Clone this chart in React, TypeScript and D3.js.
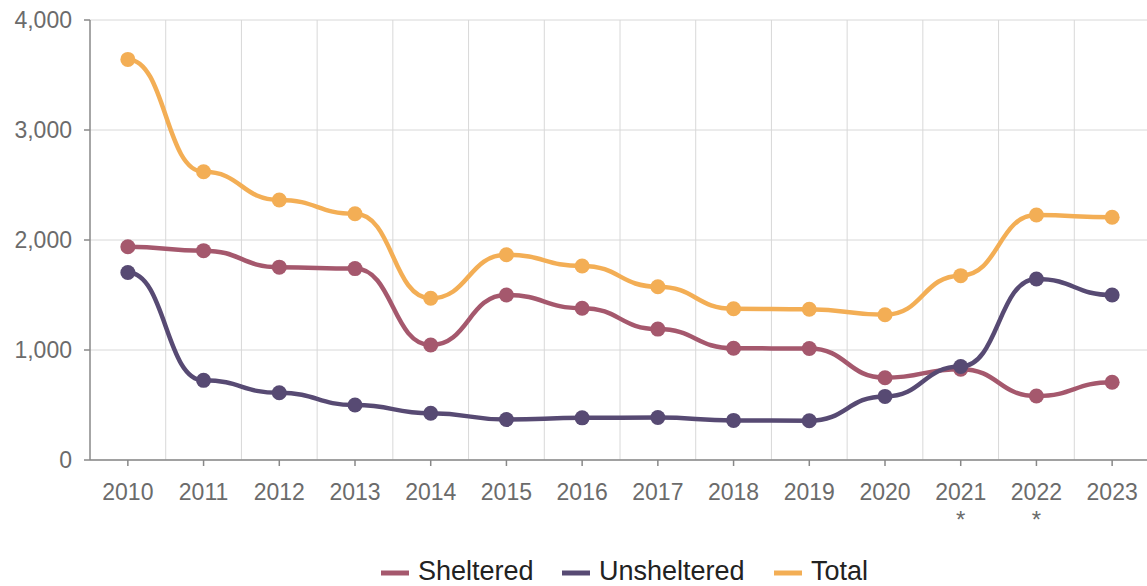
import React from "react";
import * as d3 from "d3";

const years = ["2010", "2011", "2012", "2013", "2014", "2015", "2016", "2017", "2018", "2019", "2020", "2021", "2022", "2023"];
const starredYears = ["2021", "2022"];
const sheltered = [1938, 1903, 1753, 1740, 1045, 1500, 1380, 1190, 1016, 1013, 748, 826, 582, 707];
const unsheltered = [1704, 724, 611, 500, 425, 368, 383, 386, 360, 357, 578, 850, 1645, 1500];
const total = [3642, 2620, 2364, 2238, 1470, 1866, 1764, 1575, 1375, 1370, 1320, 1676, 2227, 2207];
const yTicks = [0, 1000, 2000, 3000, 4000];

const seriesList = [
  { name: "Sheltered", values: sheltered, color: "#a5586d" },
  { name: "Unsheltered", values: unsheltered, color: "#574a73" },
  { name: "Total", values: total, color: "#f3ae55" },
];

const W = 1147;
const H = 586;
const margin = { top: 20, right: -3, bottom: 126, left: 90 };
const FONT = "'Liberation Sans', Arial, sans-serif";

export default function App() {
  const x = d3
    .scaleBand<string>()
    .domain(years)
    .range([margin.left, W - margin.right])
    .padding(0);
  const cx = (yr: string) => (x(yr) ?? 0) + x.bandwidth() / 2;
  const y = d3
    .scaleLinear()
    .domain([0, 4000])
    .range([H - margin.bottom, margin.top]);
  const fmt = d3.format(",");

  const line = d3
    .line<number>()
    .x((_, i) => cx(years[i]))
    .y((d) => y(d))
    .curve(d3.curveBumpX);

  const x0 = margin.left;
  const x1 = W - margin.right;
  const y0 = y(0);

  // legend layout
  const legendItems = [
    { name: "Sheltered", color: seriesList[0].color, lx: 381 },
    { name: "Unsheltered", color: seriesList[1].color, lx: 562 },
    { name: "Total", color: seriesList[2].color, lx: 774 },
  ];

  return (
    <svg
      width={W}
      height={H}
      style={{ position: "absolute", left: 0, top: 0, background: "#fff" }}
      fontFamily={FONT}
    >
      {/* horizontal grid */}
      {yTicks.map((t) => (
        <line key={"h" + t} x1={x0} x2={x1} y1={y(t)} y2={y(t)} stroke="#d8d8d8" strokeWidth={1} />
      ))}
      {/* vertical grid at band edges */}
      {years.slice(1).map((yr) => (
        <line key={"v" + yr} x1={x(yr)} x2={x(yr)} y1={margin.top} y2={y0} stroke="#d8d8d8" strokeWidth={1} />
      ))}

      {/* y axis */}
      <line x1={x0} x2={x0} y1={margin.top} y2={y0} stroke="#888" strokeWidth={1.5} />
      {yTicks.map((t) => (
        <g key={"yt" + t}>
          <line x1={x0 - 6} x2={x0} y1={y(t)} y2={y(t)} stroke="#888" strokeWidth={1.5} />
          <text x={72} y={y(t)} dy="0.35em" textAnchor="end" fontSize={23} fill="#6b6b6b">
            {fmt(t)}
          </text>
        </g>
      ))}

      {/* x axis */}
      <line x1={x0} x2={x1} y1={y0} y2={y0} stroke="#888" strokeWidth={1.5} />
      {years.map((yr) => (
        <g key={"xt" + yr}>
          <line x1={cx(yr)} x2={cx(yr)} y1={y0} y2={y0 + 6} stroke="#888" strokeWidth={1.5} />
          <text x={cx(yr)} y={500} textAnchor="middle" fontSize={23} fill="#6b6b6b">
            {yr}
          </text>
          {starredYears.includes(yr) && (
            <text x={cx(yr)} y={528} textAnchor="middle" fontSize={24} fill="#6b6b6b">
              *
            </text>
          )}
        </g>
      ))}

      {/* series */}
      {seriesList.map((s) => (
        <g key={s.name}>
          <path d={line(s.values) ?? ""} fill="none" stroke={s.color} strokeWidth={4.5} strokeLinecap="round" strokeLinejoin="round" />
          {s.values.map((v, i) => (
            <circle key={i} cx={cx(years[i])} cy={y(v)} r={7.5} fill={s.color} />
          ))}
        </g>
      ))}

      {/* legend */}
      {legendItems.map((it) => (
        <g key={"lg" + it.name}>
          <line x1={it.lx} x2={it.lx + 28} y1={573} y2={573} stroke={it.color} strokeWidth={5} />
          <text x={it.lx + 37} y={580} fontSize={27} fill="#222">
            {it.name}
          </text>
        </g>
      ))}
    </svg>
  );
}
